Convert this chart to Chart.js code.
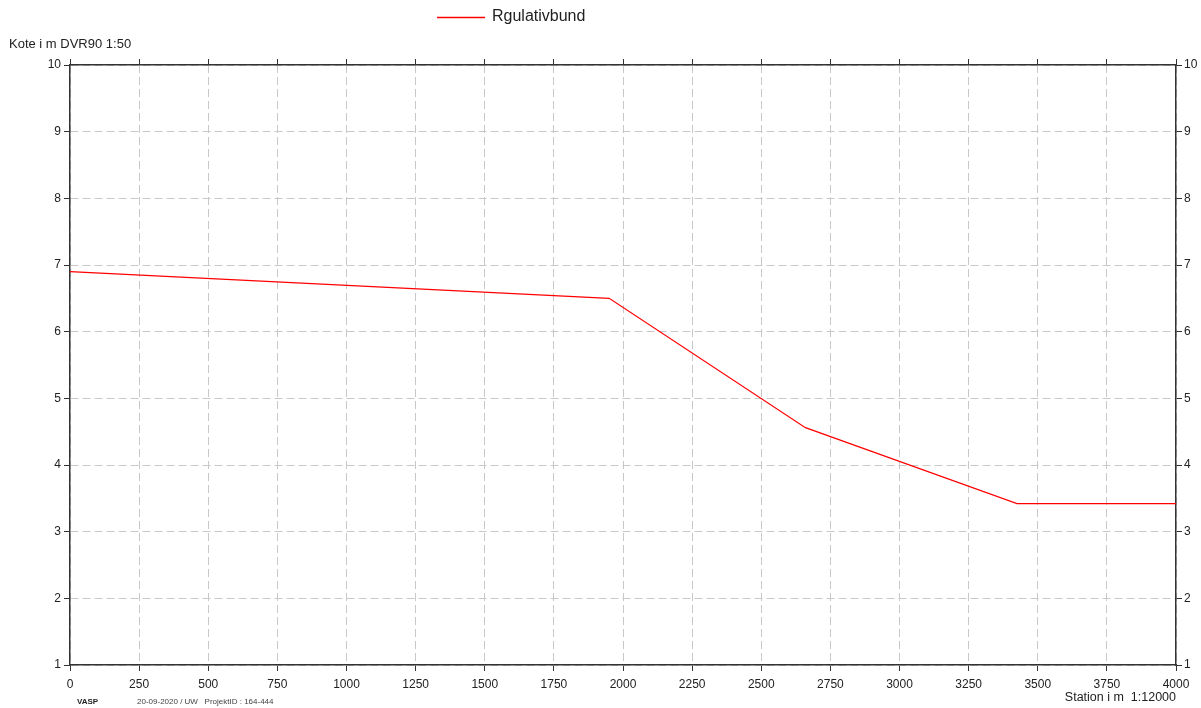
<!DOCTYPE html>
<html>
<head>
<meta charset="utf-8">
<script src="https://cdn.jsdelivr.net/npm/chart.js@4.4.1/dist/chart.umd.min.js"></script>
<style>
  html, body { margin: 0; padding: 0; background: #fff; }
  #wrap { width: 1201px; height: 708px; position: relative; }
</style>
</head>
<body>
<div id="wrap"><canvas id="c"></canvas></div>
<script>
// station (m) and level (m DVR90) of the profile
const stations = [0, 1950, 2660, 3425, 4000]
const levels = [6.9, 6.5, 4.56, 3.42, 3.42]
const seriesLabel = 'Rgulativbund'
const yAxisTitle = 'Kote i m DVR90 1:50'
const xAxisTitle = 'Station i m  1:12000'
const footerLeft = 'VASP'
const footerInfo = '20-09-2020 / UW   ProjektID : 164-444'

const FONT = '"Liberation Sans", Arial, sans-serif'
const RED = '#ff0000'
const DARK = '#333'

const extras = {
  id: 'extras',
  afterDraw(chart) {
    const ctx = chart.ctx
    const area = chart.chartArea
    ctx.save()
    // legend
    ctx.strokeStyle = RED
    ctx.lineWidth = 1.3
    ctx.beginPath()
    ctx.moveTo(437, 17.5)
    ctx.lineTo(485, 17.5)
    ctx.stroke()
    ctx.fillStyle = '#222'
    ctx.font = '16px ' + FONT
    ctx.textBaseline = 'middle'
    ctx.textAlign = 'left'
    ctx.fillText(seriesLabel, 492, 17)
    // axis captions
    ctx.font = '13px ' + FONT
    ctx.fillText(yAxisTitle, 9, 44)
    ctx.textAlign = 'right'
    ctx.font = '12.5px ' + FONT
    ctx.fillText(xAxisTitle, area.right, 698)
    // footer
    ctx.textAlign = 'left'
    ctx.font = 'bold 8px ' + FONT
    ctx.fillText(footerLeft, 77, 702)
    ctx.font = '8px ' + FONT
    ctx.fillStyle = '#444'
    ctx.fillText(footerInfo, 137, 702)
    ctx.restore()
  },
}

const gridCommon = {
  color: '#c8c8c8',
  lineWidth: 1,
  tickColor: DARK,
  tickBorderDash: [],
  tickLength: 6,
  tickWidth: 1,
}
const borderCommon = { color: DARK, width: 1.5, dash: [8, 4] }
const plain = (v) => String(v)

new Chart(document.getElementById('c'), {
  type: 'line',
  data: {
    datasets: [{
      label: seriesLabel,
      data: stations.map((s, i) => ({ x: s, y: levels[i] })),
      borderColor: RED,
      borderWidth: 1.2,
      pointRadius: 0,
      tension: 0,
      xAxisID: 'x',
      yAxisID: 'y',
    }],
  },
  options: {
    responsive: true,
    maintainAspectRatio: false,
    animation: false,
    layout: { padding: 0 },
    plugins: {
      legend: { display: false },
      tooltip: { enabled: false },
    },
    scales: {
      x: {
        type: 'linear',
        position: 'bottom',
        min: 0,
        max: 4000,
        ticks: { stepSize: 250, color: '#222', font: { family: FONT, size: 12 }, padding: 6, maxRotation: 0, callback: plain },
        grid: gridCommon,
        border: borderCommon,
        afterFit: (s) => { s.height = 43 },
      },
      x2: {
        type: 'linear',
        position: 'top',
        min: 0,
        max: 4000,
        ticks: { stepSize: 250, display: false },
        grid: { ...gridCommon, drawOnChartArea: false },
        border: borderCommon,
        afterFit: (s) => { s.height = 65 },
      },
      y: {
        position: 'left',
        min: 1,
        max: 10,
        ticks: { stepSize: 1, color: '#222', font: { family: FONT, size: 12 }, padding: 3, callback: plain },
        grid: gridCommon,
        border: borderCommon,
        afterFit: (s) => { s.width = 70 },
      },
      y2: {
        position: 'right',
        min: 1,
        max: 10,
        ticks: { stepSize: 1, color: '#222', font: { family: FONT, size: 12 }, padding: 2, callback: plain },
        grid: { ...gridCommon, drawOnChartArea: false },
        border: borderCommon,
        afterFit: (s) => { s.width = 25 },
      },
    },
  },
  plugins: [extras],
})
</script>
</body>
</html>
